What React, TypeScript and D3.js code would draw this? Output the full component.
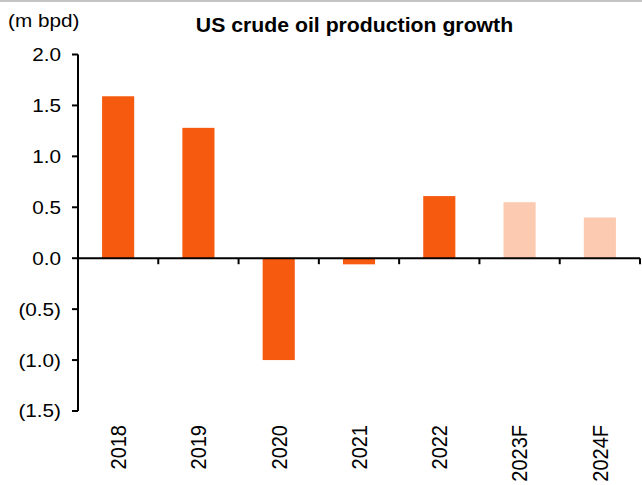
import * as React from 'react'
import * as d3 from 'd3'

const years = ['2018', '2019', '2020', '2021', '2022', '2023F', '2024F']
const growth = [1.59, 1.28, -1.0, -0.06, 0.61, 0.55, 0.4]
const forecast = [false, false, false, false, false, true, true]
const yTicks = [-1.5, -1.0, -0.5, 0, 0.5, 1.0, 1.5, 2.0]

const W = 642
const H = 485
const FONT = '"Liberation Sans", Arial, sans-serif'
const SX = 1.12

const fmt = (d: number) => (d < 0 ? `(${d3.format('.1f')(-d)})` : d3.format('.1f')(d))

export default function App() {
  const ref = React.useRef<SVGSVGElement>(null)

  React.useEffect(() => {
    const svg = d3.select(ref.current)
    svg.selectAll('*').remove()

    const x = d3.scaleBand().domain(years).range([78, 640]).padding(0)
    const y = d3.scaleLinear().domain([-1.5, 2.0]).range([411, 54.5])
    const barW = x.bandwidth() * 0.4

    svg.append('rect').attr('x', 0).attr('y', 0).attr('width', W).attr('height', 2).attr('fill', '#c4c4c4')

    // bars
    svg
      .append('g')
      .selectAll('rect')
      .data(years)
      .enter()
      .append('rect')
      .attr('x', (d) => x(d)! + (x.bandwidth() - barW) / 2)
      .attr('y', (d, i) => y(Math.max(0, growth[i])))
      .attr('width', barW)
      .attr('height', (d, i) => Math.abs(y(growth[i]) - y(0)))
      .attr('fill', (d, i) => (forecast[i] ? '#fccab0' : '#f55a0e'))

    // y axis
    const yg = svg.append('g')
    yg.append('line')
      .attr('x1', 78).attr('x2', 78)
      .attr('y1', y(2.0)).attr('y2', y(-1.5))
      .attr('stroke', '#000').attr('stroke-width', 2)
    yg.selectAll('line.tick')
      .data(yTicks)
      .enter()
      .append('line')
      .attr('class', 'tick')
      .attr('x1', 72).attr('x2', 78)
      .attr('y1', (d) => y(d)).attr('y2', (d) => y(d))
      .attr('stroke', '#000').attr('stroke-width', 2)
    yg.selectAll('text')
      .data(yTicks)
      .enter()
      .append('text')
      .attr('transform', (d) => `translate(61,${y(d)}) scale(${SX},1)`)
      .attr('dy', '0.35em')
      .attr('text-anchor', 'end')
      .attr('font-family', FONT)
      .attr('font-size', 18.5)
      .attr('fill', '#000')
      .text((d) => fmt(d))

    // x axis (zero line)
    const xg = svg.append('g')
    xg.append('line')
      .attr('x1', 78).attr('x2', 640)
      .attr('y1', y(0)).attr('y2', y(0))
      .attr('stroke', '#000').attr('stroke-width', 2)
    xg.selectAll('line.tick')
      .data(years)
      .enter()
      .append('line')
      .attr('class', 'tick')
      .attr('x1', (d) => x(d)! + x.bandwidth())
      .attr('x2', (d) => x(d)! + x.bandwidth())
      .attr('y1', y(0)).attr('y2', y(0) + 6)
      .attr('stroke', '#000').attr('stroke-width', 2)
    xg.selectAll('text')
      .data(years)
      .enter()
      .append('text')
      .attr('transform', (d) => `translate(${x(d)! + x.bandwidth() / 2},425) scale(${SX},1) rotate(-90)`)
      .attr('dy', '0.35em')
      .attr('text-anchor', 'end')
      .attr('font-family', FONT)
      .attr('font-size', 20)
      .attr('fill', '#000')
      .text((d) => d)

    svg.append('text')
      .attr('transform', `translate(8,27) scale(${SX},1)`)
      .attr('font-family', FONT)
      .attr('font-size', 18.5)
      .attr('fill', '#000')
      .text('(m bpd)')

    svg.append('text')
      .attr('transform', `translate(354.5,32) scale(1.09,1)`)
      .attr('text-anchor', 'middle')
      .attr('font-family', FONT)
      .attr('font-weight', 'bold')
      .attr('font-size', 19.5)
      .attr('fill', '#000')
      .text('US crude oil production growth')
  }, [])

  return (
    <svg
      ref={ref}
      width={W}
      height={H}
      style={{ position: 'absolute', left: 0, top: 0, background: '#fff' }}
    />
  )
}
